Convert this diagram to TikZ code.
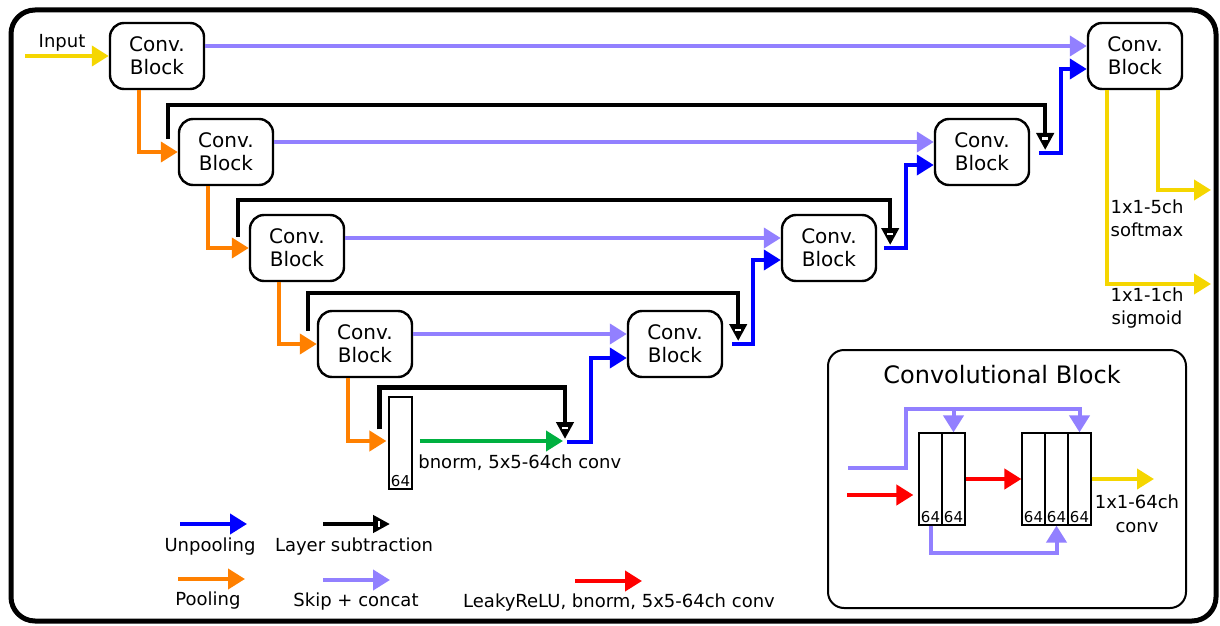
\documentclass[tikz,border=0pt]{standalone}
\usepackage{fontspec}
\setmainfont{DejaVu Sans}
\usetikzlibrary{arrows.meta,calc}
\definecolor{skipc}{RGB}{146,128,255}
\definecolor{poolc}{RGB}{255,128,0}
\definecolor{unpc}{RGB}{0,0,255}
\definecolor{yelc}{RGB}{245,214,0}
\definecolor{grnc}{RGB}{0,176,64}
\definecolor{redc}{RGB}{255,0,0}
\begin{document}
\begin{tikzpicture}[x=0.5pt,y=-0.5pt,
  block/.style={draw, line width=1.2pt, rounded corners=7pt, minimum width=47pt, minimum height=33pt,
    align=center, font=\fontsize{10}{11.5}\selectfont, fill=white, inner sep=0pt},
  col/.style={draw, line width=0.6pt, minimum width=11.5pt, minimum height=46pt, inner sep=0pt, fill=white,
    label={[anchor=south, inner sep=1pt, font=\fontsize{7.5}{8}\selectfont]south:64}},
  lbl/.style={font=\fontsize{9}{11.5}\selectfont, align=center, inner sep=0pt},
  arr/.style={line width=2pt, -{Triangle[length=8.5pt,width=10pt]}},
  skipa/.style={arr, draw=skipc},
  poola/.style={arr, draw=poolc},
  unpa/.style={arr, draw=unpc},
  yela/.style={arr, draw=yelc},
  grna/.style={arr, draw=grnc},
  reda/.style={arr, draw=redc},
  suba/.style={line width=2.2pt, draw=black, -{Triangle[length=8.5pt, width=8.5pt]}},
  subbar/.style={draw=white, line width=1pt},
]
\useasboundingbox (0,0) rectangle (1220,626);
\draw[line width=2.5pt, rounded corners=12pt] (11,10) rectangle (1216,621);

% blocks
\node[block] (E1) at (157,56) {Conv.\\Block};
\node[block] (E2) at (226,152) {Conv.\\Block};
\node[block] (E3) at (297,248) {Conv.\\Block};
\node[block] (E4) at (365,344) {Conv.\\Block};
\node[block] (D1) at (1135,56) {Conv.\\Block};
\node[block] (D2) at (982,152) {Conv.\\Block};
\node[block] (D3) at (829,248) {Conv.\\Block};
\node[block] (D4) at (675,344) {Conv.\\Block};
\node[col] (B) at (400.5,443) {};

% input
\coordinate (In) at (25,56);
\draw[yela] (In) -- (E1.west);
\node[lbl] (tIn) at (62,43) {Input};

% skip connections
\draw[skipa] ($(E1.east)+(0,-10)$) -- ($(D1.west)+(0,-10)$);
\draw[skipa] ($(E2.east)+(0,-10)$) -- ($(D2.west)+(0,-10)$);
\draw[skipa] ($(E3.east)+(0,-10)$) -- ($(D3.west)+(0,-10)$);
\draw[skipa] ($(E4.east)+(0,-10)$) -- ($(D4.west)+(0,-10)$);

% pooling
\draw[poola] ($(E1.south west)+(30,0)$) |- (E2.west);
\draw[poola] ($(E2.south west)+(30,0)$) |- (E3.west);
\draw[poola] ($(E3.south west)+(30,0)$) |- (E4.west);
\draw[poola] ($(E4.south west)+(31,0)$) |- ($(B.west)+(-2,-2)$);

% junctions
\coordinate (J1) at ($(D2.east)+(15,-2)$);
\coordinate (J2) at ($(D3.east)+(13,-3)$);
\coordinate (J3) at ($(D4.east)+(15,-3)$);
\coordinate (J4) at (565,439);

% subtraction
\draw[suba] ($(E2.north west)+(-10,21)$) -- ($(E2.north west)+(-10,-13)$) -| (J1);
\draw[suba] ($(E3.north west)+(-11,23)$) -- ($(E3.north west)+(-11,-14)$) -| (J2);
\draw[suba] ($(E4.north west)+(-9,21)$) -- ($(E4.north west)+(-9,-17)$) -| (J3);
\draw[suba] ($(B.north west)+(-9,33)$) -- ($(B.north west)+(-9,-9)$) -| (J4);
\foreach \j in {J1,J2,J3,J4}
  \draw[subbar] ($(\j)+(-3,-11.5)$) -- ($(\j)+(3,-11.5)$);

% bottleneck conv
\draw[grna] ($(B.east)+(7,-2)$) -- ($(J4)+(-2,2)$);
\node[lbl, anchor=west] (tBn) at (418,463) {bnorm, 5x5-64ch conv};

% unpooling
\draw[unpa] ($(J1)+(-6,3)$) -- ++(22,0) |- ($(D1.west)+(0,13)$);
\draw[unpa] ($(J2)+(-6,3)$) -- ++(22,0) |- ($(D2.west)+(0,13)$);
\draw[unpa] ($(J3)+(-6,3)$) -- ++(21,0) |- ($(D3.west)+(0,12)$);
\draw[unpa] ($(J4)+(2,3)$) -- ++(24,0) |- ($(D4.west)+(0,14)$);

% outputs
\coordinate (O1) at (1211,190);
\coordinate (O2) at (1211,284);
\draw[yela] ($(D1.south east)+(-25,0)$) |- (O1);
\draw[yela] ($(D1.south west)+(20,0)$) |- (O2);
\node[lbl] (tO1) at (1147,218) {1x1-5ch\\softmax};
\node[lbl] (tO2) at (1147,308) {1x1-1ch\\sigmoid};

% legend
\coordinate (L1a) at (180,524); \coordinate (L1b) at (247,524);
\coordinate (L2a) at (323,524); \coordinate (L2b) at (390,524);
\coordinate (L3a) at (178,579); \coordinate (L3b) at (245,579);
\coordinate (L4a) at (323,580); \coordinate (L4b) at (390,580);
\coordinate (L5a) at (575,581); \coordinate (L5b) at (642,581);
\draw[unpa] (L1a) -- (L1b);
\draw[suba] (L2a) -- (L2b);
\draw[subbar] ($(L2b)+(-11.5,-3)$) -- ($(L2b)+(-11.5,3)$);
\draw[poola] (L3a) -- (L3b);
\draw[skipa] (L4a) -- (L4b);
\draw[reda] (L5a) -- (L5b);
\node[lbl] (tL1) at (210,547) {Unpooling};
\node[lbl] (tL2) at (354,547) {Layer subtraction};
\node[lbl] (tL3) at (208,601) {Pooling};
\node[lbl] (tL4) at (356,602) {Skip + concat};
\node[lbl] (tL5) at (619,603) {LeakyReLU, bnorm, 5x5-64ch conv};

% inset
\draw[line width=1pt, rounded corners=8pt] (828,350) rectangle (1186,608);
\node[font=\fontsize{12}{14}\selectfont, inner sep=0pt] (tCB) at (1002,375) {Convolutional Block};
\node[col] (s1a) at (930.5,479) {};
\node[col] (s1b) at (953.5,479) {};
\node[col] (s2a) at (1033.5,479) {};
\node[col] (s2b) at (1056.5,479) {};
\node[col] (s2c) at (1079.5,479) {};
\coordinate (ci1) at (848,468);
\coordinate (ci2) at (847,495);
\coordinate (ctop) at (906,409);
\coordinate (cout) at (1154,479);
\draw[skipa] (ci1) -| (ctop) -| (s2c.north);
\draw[skipa] (s1b.north |- ctop) -- (s1b.north);
\draw[reda] (ci2) -- ($(ci2 -| s1a.west)+(-5,0)$);
\draw[reda] (s1b.east) -- (s2a.west);
\draw[yela] (s2c.east) -- (cout);
\draw[skipa] (s1a.south) -- ++(0,27) -| (s2b.south);
\node[lbl, font=\fontsize{9}{12}\selectfont] (tC) at (1137,514) {1x1-64ch\\conv};
\end{tikzpicture}
\end{document}
